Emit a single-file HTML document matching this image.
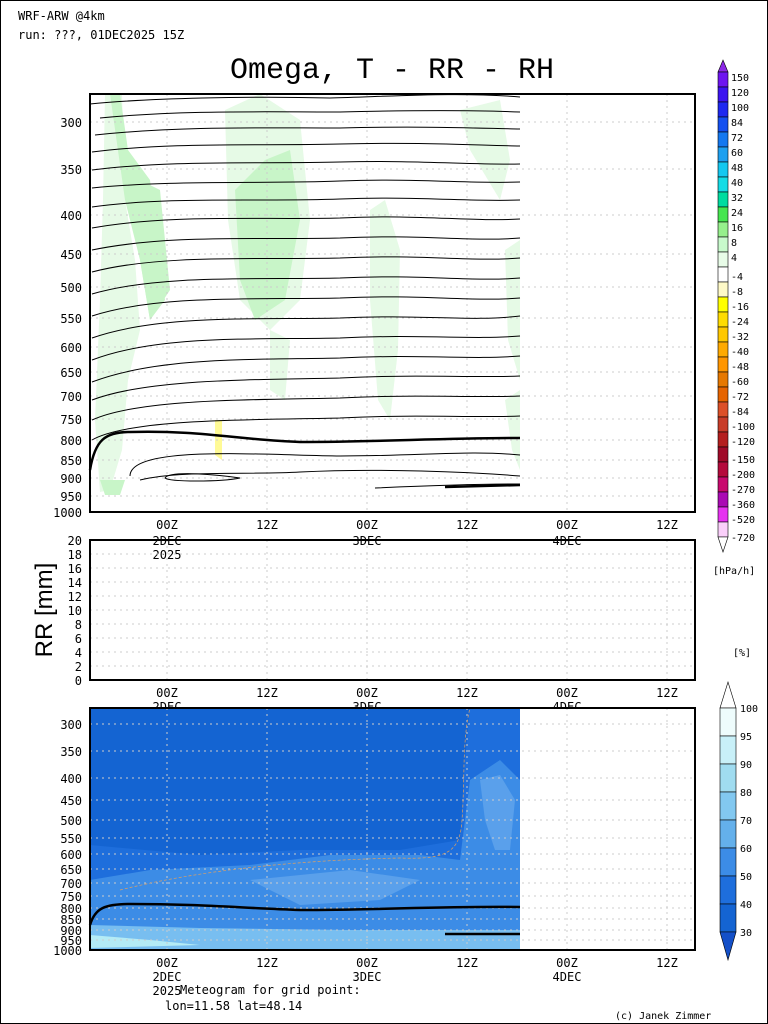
<!DOCTYPE html>
<html><head><meta charset="utf-8"><style>
body{margin:0;background:#fff}
svg{display:block;font-family:"DejaVu Sans Mono","Liberation Mono",monospace}
</style></head><body>
<svg width="768" height="1024" viewBox="0 0 768 1024" xmlns="http://www.w3.org/2000/svg">
<rect x="0.5" y="0.5" width="767" height="1023" fill="#fff" stroke="#000"/>
<text x="18" y="20" font-size="12">WRF-ARW @4km</text>
<text x="18" y="39" font-size="12">run: ???, 01DEC2025 15Z</text>
<text x="392" y="78" font-size="30" text-anchor="middle" font-family="Liberation Mono,monospace">Omega, T - RR - RH</text>

<!-- PANEL 1 -->
<g>
<polygon points="105,94 122,94 125,200 135,260 140,330 128,380 122,450 110,490 100,492 95,420 100,300 103,200" fill="#e6fae6"/>
<polygon points="110,94 120,94 128,150 150,180 165,300 150,320 140,260 125,200" fill="#c8f5c8"/>
<polygon points="140,180 160,190 170,290 150,320 140,260" fill="#c8f5c8"/>
<polygon points="225,110 260,94 300,120 310,220 300,300 270,330 240,300 228,220" fill="#e6fae6"/>
<polygon points="235,190 265,160 290,150 300,220 285,300 255,320 240,280" fill="#c8f5c8"/>
<polygon points="270,330 290,340 285,400 270,390" fill="#e6fae6"/>
<polygon points="370,210 385,200 400,250 398,350 390,420 378,400 370,300" fill="#e6fae6"/>
<polygon points="460,110 500,100 510,160 500,200 470,150" fill="#e6fae6"/>
<polygon points="505,250 520,240 520,380 508,340" fill="#e6fae6"/>
<polygon points="505,400 520,390 520,470 512,450" fill="#e6fae6"/>
<polygon points="100,480 125,480 120,495 105,495" fill="#c8f5c8"/>
<polygon points="215,420 222,420 222,460 215,455" fill="#fffa96"/>
<g stroke="#cccccc" stroke-dasharray="2,4" stroke-width="1">
<line x1="167" y1="94" x2="167" y2="512"/><line x1="267" y1="94" x2="267" y2="512"/><line x1="367" y1="94" x2="367" y2="512"/><line x1="467" y1="94" x2="467" y2="512"/><line x1="567" y1="94" x2="567" y2="512"/><line x1="667" y1="94" x2="667" y2="512"/>
<line x1="90" y1="122" x2="695" y2="122"/><line x1="90" y1="169" x2="695" y2="169"/><line x1="90" y1="215" x2="695" y2="215"/><line x1="90" y1="254" x2="695" y2="254"/><line x1="90" y1="287" x2="695" y2="287"/><line x1="90" y1="318" x2="695" y2="318"/><line x1="90" y1="347" x2="695" y2="347"/><line x1="90" y1="372" x2="695" y2="372"/><line x1="90" y1="396" x2="695" y2="396"/><line x1="90" y1="419" x2="695" y2="419"/><line x1="90" y1="440" x2="695" y2="440"/><line x1="90" y1="460" x2="695" y2="460"/><line x1="90" y1="478" x2="695" y2="478"/><line x1="90" y1="496" x2="695" y2="496"/>
</g>
<g fill="none" stroke="#000" stroke-width="1">
<path d="M90,104 C150,98 250,96 330,98 C400,96 460,92 520,97"/>
<path d="M100,118 C180,110 260,112 340,112 C420,110 470,110 520,112"/>
<path d="M95,135 C180,126 260,128 340,128 C420,126 470,128 520,129"/>
<path d="M92,152 C170,142 260,146 340,144 C420,142 470,145 520,146"/>
<path d="M92,170 C170,160 260,164 340,162 C420,160 470,165 520,164"/>
<path d="M92,188 C170,180 260,184 340,181 C420,178 470,184 520,182"/>
<path d="M92,207 C170,196 260,202 340,199 C420,196 470,202 520,200"/>
<path d="M92,228 C170,214 260,220 340,218 C420,214 470,222 520,219"/>
<path d="M92,250 C170,234 260,240 340,238 C420,234 470,242 520,238"/>
<path d="M92,272 C160,254 260,260 340,258 C420,254 470,262 520,258"/>
<path d="M92,294 C160,274 260,280 340,278 C420,274 470,282 520,278"/>
<path d="M92,316 C160,294 260,300 340,298 C420,294 470,302 520,298"/>
<path d="M92,338 C160,314 260,320 340,318 C420,314 470,322 520,316"/>
<path d="M92,360 C160,334 260,340 340,338 C420,334 470,340 520,336"/>
<path d="M92,382 C160,356 260,360 340,358 C420,354 470,360 520,356"/>
<path d="M92,400 C150,378 260,380 340,378 C420,374 470,378 520,376"/>
<path d="M92,420 C140,398 260,400 340,398 C420,394 470,398 520,396"/>
<path d="M92,440 C130,418 260,420 340,418 C420,414 470,418 520,416"/>
<path d="M130,476 C130,445 260,455 340,456 C420,456 470,450 520,455"/>
<path d="M140,480 C180,470 250,475 300,472 C380,468 470,472 520,476"/>
<path d="M165,478 C170,470 220,475 240,478 C220,482 170,482 165,478Z"/>
<path d="M375,488 C420,486 470,484 520,484"/>
</g>
<path d="M90,470 C95,440 105,432 130,432 C200,430 240,440 300,442 C380,442 440,438 520,438" fill="none" stroke="#000" stroke-width="2.5"/>
<path d="M445,487 L520,485" fill="none" stroke="#000" stroke-width="2.5"/>
<rect x="90" y="94" width="605" height="418" fill="none" stroke="#000" stroke-width="2"/>
</g>
<g font-size="12" text-anchor="end">
<text x="82" y="127">300</text><text x="82" y="174">350</text><text x="82" y="220">400</text><text x="82" y="259">450</text><text x="82" y="292">500</text><text x="82" y="323">550</text><text x="82" y="352">600</text><text x="82" y="377">650</text><text x="82" y="401">700</text><text x="82" y="424">750</text><text x="82" y="445">800</text><text x="82" y="465">850</text><text x="82" y="483">900</text><text x="82" y="501">950</text><text x="82" y="517">1000</text>
</g>
<g font-size="12" text-anchor="middle">
<text x="167" y="529">00Z</text><text x="267" y="529">12Z</text><text x="367" y="529">00Z</text><text x="467" y="529">12Z</text><text x="567" y="529">00Z</text><text x="667" y="529">12Z</text>
<text x="167" y="545">2DEC</text><text x="167" y="559">2025</text><text x="367" y="545">3DEC</text><text x="567" y="545">4DEC</text>
</g>

<!-- PANEL 2 -->
<g stroke="#cccccc" stroke-dasharray="2,4">
<line x1="167" y1="540" x2="167" y2="680"/><line x1="267" y1="540" x2="267" y2="680"/><line x1="367" y1="540" x2="367" y2="680"/><line x1="467" y1="540" x2="467" y2="680"/><line x1="567" y1="540" x2="567" y2="680"/><line x1="667" y1="540" x2="667" y2="680"/>
<line x1="90" y1="554" x2="695" y2="554"/><line x1="90" y1="568" x2="695" y2="568"/><line x1="90" y1="582" x2="695" y2="582"/><line x1="90" y1="596" x2="695" y2="596"/><line x1="90" y1="610" x2="695" y2="610"/><line x1="90" y1="624" x2="695" y2="624"/><line x1="90" y1="638" x2="695" y2="638"/><line x1="90" y1="652" x2="695" y2="652"/><line x1="90" y1="666" x2="695" y2="666"/>
</g>
<rect x="90" y="540" width="605" height="140" fill="none" stroke="#000" stroke-width="2"/>
<g font-size="12" text-anchor="end">
<text x="82" y="545">20</text><text x="82" y="559">18</text><text x="82" y="573">16</text><text x="82" y="587">14</text><text x="82" y="601">12</text><text x="82" y="615">10</text><text x="82" y="629">8</text><text x="82" y="643">6</text><text x="82" y="657">4</text><text x="82" y="671">2</text><text x="82" y="685">0</text>
</g>
<text transform="translate(52,610) rotate(-90)" font-size="24" text-anchor="middle" font-family="Liberation Sans,sans-serif">RR [mm]</text>
<g font-size="12" text-anchor="middle">
<text x="167" y="697">00Z</text><text x="267" y="697">12Z</text><text x="367" y="697">00Z</text><text x="467" y="697">12Z</text><text x="567" y="697">00Z</text><text x="667" y="697">12Z</text>
<text x="167" y="711">2DEC</text><text x="367" y="711">3DEC</text><text x="567" y="711">4DEC</text>
</g>

<!-- PANEL 3 -->
<rect x="90" y="708" width="430" height="242" fill="#1464d2"/>
<polygon points="90,845 200,855 300,850 400,850 460,840 465,760 470,708 520,708 520,950 90,950" fill="#1e6edc"/>
<polygon points="90,880 150,870 250,865 330,855 420,855 460,860 470,780 500,760 520,780 520,950 90,950" fill="#3c8ce6"/>
<polygon points="480,780 500,775 515,800 510,850 495,850 485,820" fill="#5aa0eb"/>
<polygon points="250,880 350,870 420,880 380,900 300,905" fill="#5aa0eb"/>
<polygon points="90,925 200,928 350,930 520,930 520,950 90,950" fill="#78bef0"/>
<polygon points="90,935 150,940 200,945 90,948" fill="#b4ebf5"/>
<rect x="520" y="708" width="175" height="242" fill="#fff"/>
<g stroke="#cccccc" stroke-dasharray="2,4">
<line x1="167" y1="708" x2="167" y2="950"/><line x1="267" y1="708" x2="267" y2="950"/><line x1="367" y1="708" x2="367" y2="950"/><line x1="467" y1="708" x2="467" y2="950"/><line x1="567" y1="708" x2="567" y2="950"/><line x1="667" y1="708" x2="667" y2="950"/>
<line x1="90" y1="724" x2="695" y2="724"/><line x1="90" y1="751" x2="695" y2="751"/><line x1="90" y1="778" x2="695" y2="778"/><line x1="90" y1="800" x2="695" y2="800"/><line x1="90" y1="820" x2="695" y2="820"/><line x1="90" y1="838" x2="695" y2="838"/><line x1="90" y1="854" x2="695" y2="854"/><line x1="90" y1="869" x2="695" y2="869"/><line x1="90" y1="883" x2="695" y2="883"/><line x1="90" y1="896" x2="695" y2="896"/><line x1="90" y1="908" x2="695" y2="908"/><line x1="90" y1="919" x2="695" y2="919"/><line x1="90" y1="930" x2="695" y2="930"/><line x1="90" y1="940" x2="695" y2="940"/>
</g>
<path d="M90,925 C95,908 105,904 130,904 C200,904 240,908 300,910 C380,910 440,906 520,907" fill="none" stroke="#000" stroke-width="2.5"/>
<path d="M445,934 L520,934" fill="none" stroke="#000" stroke-width="2.5"/>
<path d="M120,890 C200,870 300,860 400,858 C450,860 460,850 462,820 C465,780 462,740 470,708" fill="none" stroke="#e0a060" stroke-width="0.7" stroke-dasharray="3,2"/>
<rect x="90" y="708" width="605" height="242" fill="none" stroke="#000" stroke-width="2"/>
<g font-size="12" text-anchor="end">
<text x="82" y="729">300</text><text x="82" y="756">350</text><text x="82" y="783">400</text><text x="82" y="805">450</text><text x="82" y="825">500</text><text x="82" y="843">550</text><text x="82" y="859">600</text><text x="82" y="874">650</text><text x="82" y="888">700</text><text x="82" y="901">750</text><text x="82" y="913">800</text><text x="82" y="924">850</text><text x="82" y="935">900</text><text x="82" y="945">950</text><text x="82" y="955">1000</text>
</g>
<g font-size="12" text-anchor="middle">
<text x="167" y="967">00Z</text><text x="267" y="967">12Z</text><text x="367" y="967">00Z</text><text x="467" y="967">12Z</text><text x="567" y="967">00Z</text><text x="667" y="967">12Z</text>
<text x="167" y="981">2DEC</text><text x="167" y="995">2025</text><text x="367" y="981">3DEC</text><text x="567" y="981">4DEC</text>
</g>
<text x="180" y="994" font-size="12">Meteogram for grid point:</text>
<text x="165" y="1010" font-size="12">lon=11.58 lat=48.14</text>
<text x="615" y="1019" font-size="10">(c) Janek Zimmer</text>

<!-- colorbar top -->
<g stroke="#000" stroke-width="0.6">
<polygon points="718,72 723,60 728,72" fill="#8c28e6"/>
<rect x="718" y="72" width="10" height="15" fill="#6e14f0"/>
<rect x="718" y="87" width="10" height="15" fill="#3c14f0"/>
<rect x="718" y="102" width="10" height="15" fill="#1e28f0"/>
<rect x="718" y="117" width="10" height="15" fill="#1450f0"/>
<rect x="718" y="132" width="10" height="15" fill="#1478f0"/>
<rect x="718" y="147" width="10" height="15" fill="#1ea0f0"/>
<rect x="718" y="162" width="10" height="15" fill="#14c8f0"/>
<rect x="718" y="177" width="10" height="15" fill="#14dce6"/>
<rect x="718" y="192" width="10" height="15" fill="#00dca0"/>
<rect x="718" y="207" width="10" height="15" fill="#46e650"/>
<rect x="718" y="222" width="10" height="15" fill="#96f08c"/>
<rect x="718" y="237" width="10" height="15" fill="#c8facc"/>
<rect x="718" y="252" width="10" height="15" fill="#e8fce8"/>
<rect x="718" y="267" width="10" height="15" fill="#ffffff"/>
<rect x="718" y="282" width="10" height="15" fill="#fffac8"/>
<rect x="718" y="297" width="10" height="15" fill="#ffff00"/>
<rect x="718" y="312" width="10" height="15" fill="#ffdc00"/>
<rect x="718" y="327" width="10" height="15" fill="#ffc800"/>
<rect x="718" y="342" width="10" height="15" fill="#ffaa00"/>
<rect x="718" y="357" width="10" height="15" fill="#ff9600"/>
<rect x="718" y="372" width="10" height="15" fill="#e67800"/>
<rect x="718" y="387" width="10" height="15" fill="#e66400"/>
<rect x="718" y="402" width="10" height="15" fill="#dc5028"/>
<rect x="718" y="417" width="10" height="15" fill="#c83c28"/>
<rect x="718" y="432" width="10" height="15" fill="#b41e1e"/>
<rect x="718" y="447" width="10" height="15" fill="#a00a28"/>
<rect x="718" y="462" width="10" height="15" fill="#b40a3c"/>
<rect x="718" y="477" width="10" height="15" fill="#c80a6e"/>
<rect x="718" y="492" width="10" height="15" fill="#aa0ab4"/>
<rect x="718" y="507" width="10" height="15" fill="#e632f0"/>
<rect x="718" y="522" width="10" height="15" fill="#facffa"/>
<polygon points="718,537 723,552 728,537" fill="#fff"/>
</g>
<g font-size="10">
<text x="731" y="81">150</text><text x="731" y="96">120</text><text x="731" y="111">100</text><text x="731" y="126">84</text><text x="731" y="141">72</text><text x="731" y="156">60</text><text x="731" y="171">48</text><text x="731" y="186">40</text><text x="731" y="201">32</text><text x="731" y="216">24</text><text x="731" y="231">16</text><text x="731" y="246">8</text><text x="731" y="261">4</text><text x="731" y="280">-4</text><text x="731" y="295">-8</text><text x="731" y="310">-16</text><text x="731" y="325">-24</text><text x="731" y="340">-32</text><text x="731" y="355">-40</text><text x="731" y="370">-48</text><text x="731" y="385">-60</text><text x="731" y="400">-72</text><text x="731" y="415">-84</text><text x="731" y="430">-100</text><text x="731" y="445">-120</text><text x="731" y="463">-150</text><text x="731" y="478">-200</text><text x="731" y="493">-270</text><text x="731" y="508">-360</text><text x="731" y="523">-520</text><text x="731" y="541">-720</text>
<text x="713" y="574">[hPa/h]</text>
<text x="733" y="656">[%]</text>
</g>
<!-- colorbar bottom -->
<g stroke="#000" stroke-width="0.6">
<polygon points="720,708 728,682 736,708" fill="#fff"/>
<rect x="720" y="708" width="16" height="28" fill="#eefcfc"/>
<rect x="720" y="736" width="16" height="28" fill="#c8f0f8"/>
<rect x="720" y="764" width="16" height="28" fill="#a0dcf0"/>
<rect x="720" y="792" width="16" height="28" fill="#82c8f0"/>
<rect x="720" y="820" width="16" height="28" fill="#64b0eb"/>
<rect x="720" y="848" width="16" height="28" fill="#3c8ce6"/>
<rect x="720" y="876" width="16" height="28" fill="#1e6edc"/>
<rect x="720" y="904" width="16" height="28" fill="#1464d2"/>
<polygon points="720,932 728,960 736,932" fill="#1450c8"/>
</g>
<g font-size="10">
<text x="740" y="712">100</text><text x="740" y="740">95</text><text x="740" y="768">90</text><text x="740" y="796">80</text><text x="740" y="824">70</text><text x="740" y="852">60</text><text x="740" y="880">50</text><text x="740" y="908">40</text><text x="740" y="936">30</text>
</g>
</svg>
</body></html>
